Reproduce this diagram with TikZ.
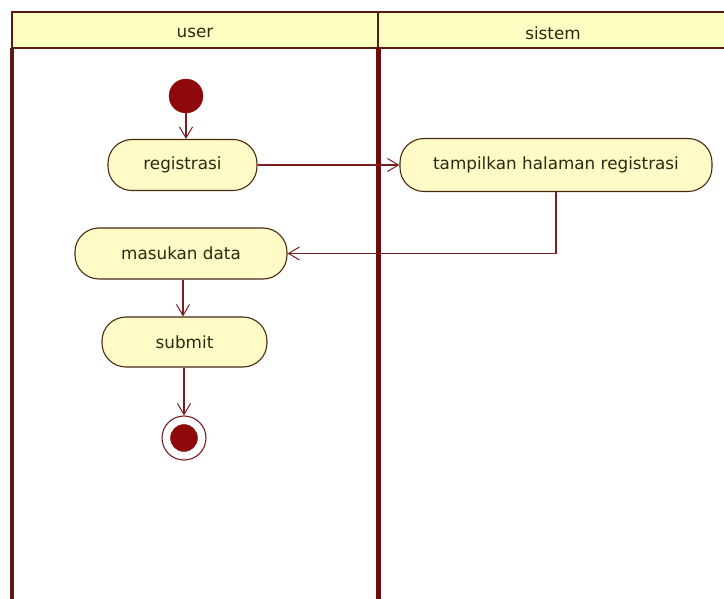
\documentclass[tikz,border=0pt]{standalone}
\usepackage{fontspec}
\setmainfont{DejaVu Sans}
\usetikzlibrary{arrows.meta,calc}
\definecolor{lanefill}{HTML}{FFFFC4}
\definecolor{laneline}{HTML}{5A1A10}
\definecolor{lanedivider}{HTML}{6E0C0C}
\definecolor{actfill}{HTML}{FFFBC6}
\definecolor{actline}{HTML}{4A2A14}
\definecolor{flowline}{HTML}{7A1E1E}
\definecolor{dotfill}{HTML}{8E0A0A}
\definecolor{labeltext}{HTML}{2A2A10}
\tikzset{
  x=1pt, y=-1pt,
  every node/.style={font=\fontsize{16.8}{20}\selectfont, text=labeltext},
  activity/.style={draw=actline, line width=1.1pt, fill=actfill,
    rounded corners=24pt, inner sep=0pt},
  startdot/.style={circle, fill=dotfill, draw=dotfill, minimum size=34pt, inner sep=0pt},
  endring/.style={circle, draw=flowline, line width=1.1pt, fill=white, minimum size=44pt, inner sep=0pt},
  enddot/.style={circle, fill=dotfill, draw=dotfill, minimum size=27pt, inner sep=0pt},
  flow/.style={draw=flowline, line width=1.3pt,
    -{Straight Barb[length=11pt,width=13pt,line width=1pt]}},
  lanehead/.style={fill=lanefill, draw=laneline, line width=2pt},
}
\begin{document}
\begin{tikzpicture}
\useasboundingbox (0,0) rectangle (724,599);
\fill[white] (0,0) rectangle (724,599);

% swimlane headers
\path[lanehead] (12,12) rectangle (378,48);
\path[lanehead] (378,12) rectangle (726,48);
\node (userlane) at (195,33) {user};
\node (sistemlane) at (553,33) {sistem};

% lane borders
\draw[laneline, line width=3.5pt] (12,48) -- (12,601);
\draw[lanedivider, line width=5pt] (378,48) -- (378,601);

% activities
\node[startdot] (start) at (186,96) {};
\node[activity, minimum width=149pt, minimum height=51pt] (reg) at (182.5,165) {registrasi};
\node[activity, minimum width=312pt, minimum height=53pt] (tamp) at (556,165) {tampilkan halaman registrasi};
\node[activity, minimum width=212pt, minimum height=51pt] (masuk) at (181,253.5) {masukan data};
\node[activity, minimum width=165pt, minimum height=50pt] (submit) at (184.5,342) {submit};
\node[endring] (stop) at (184,438) {};
\node[enddot] (stopdot) at (stop.center) {};

% control flows
\draw[flow] (start) -- (start |- reg.north);
\draw[flow] (reg) -- (tamp);
\draw[flow] (tamp.south) |- (masuk.east);
\draw[flow] (masuk.south -| 183,0) -- (submit.north -| 183,0);
\draw[flow] (submit.south -| stop) -- (stop.north);
\end{tikzpicture}
\end{document}
